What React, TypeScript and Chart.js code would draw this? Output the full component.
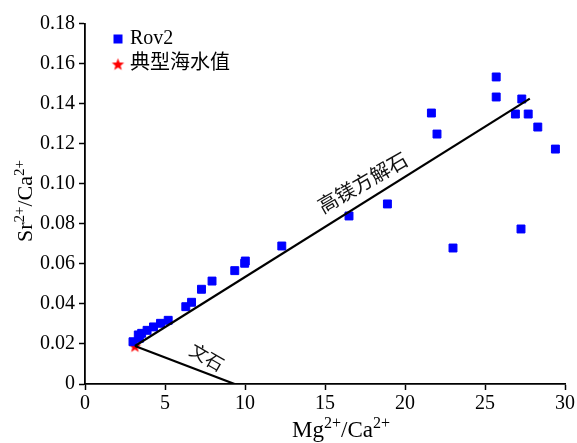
import React, { useEffect, useRef } from 'react';
import { Chart, registerables } from 'chart.js';

Chart.register(...registerables);

// ---- data ----
const rovMg = [25.7, 25.7, 27.3, 26.9, 27.7, 28.3, 29.4, 21.65, 22.0, 27.25, 23.0, 18.9, 16.5, 12.3, 10.02, 9.98, 9.36, 7.94, 7.28, 6.66, 6.3, 5.2, 4.72, 4.28, 3.88, 3.54, 3.33, 3.0, 3.4];
const rovSr = [0.1533, 0.1433, 0.1423, 0.1348, 0.1348, 0.1283, 0.1173, 0.1353, 0.1248, 0.0774, 0.0679, 0.0899, 0.0839, 0.0689, 0.0614, 0.0603, 0.0566, 0.0514, 0.0473, 0.0408, 0.0386, 0.0318, 0.0303, 0.0285, 0.0268, 0.0253, 0.0245, 0.0211, 0.0228];
const seawaterMg = [3.12];
const seawaterSr = [0.019];
const calciteLineMg = [3.12, 27.8];
const calciteLineSr = [0.019, 0.1425];
const aragoniteLineMg = [3.12, 9.35];
const aragoniteLineSr = [0.019, 0];
const seriesLabels = ['Rov2', '典型海水值'];
const lineLabels = ['高镁方解石', '文石'];
const lineLabelMg = [17.34, 7.62];
const lineLabelSr = [0.1006, 0.0135];
const xAxisRange = [0, 30, 5];
const yAxisRange = [0, 0.18, 0.02];

// ---- styles ----
const SERIF = 'Liberation Serif, Noto Sans CJK SC, serif';
const CJK = 'Noto Sans CJK SC, Noto Sans CJK JP, sans-serif';
const BLUE = '#0000ff';
const RED = '#ff0000';

Chart.defaults.font.family = SERIF;

function makeStar(color: string, outer: number, inner: number): HTMLCanvasElement {
  const c = document.createElement('canvas');
  const s = Math.ceil(outer * 2 + 2);
  c.width = s;
  c.height = s;
  const ctx = c.getContext('2d')!;
  ctx.translate(s / 2, s / 2 + 0.8);
  ctx.beginPath();
  for (let i = 0; i < 10; i++) {
    const r = i % 2 === 0 ? outer : inner;
    const a = -Math.PI / 2 + (i * Math.PI) / 5;
    const x = r * Math.cos(a);
    const y = r * Math.sin(a);
    if (i === 0) ctx.moveTo(x, y);
    else ctx.lineTo(x, y);
  }
  ctx.closePath();
  ctx.fillStyle = color;
  ctx.fill();
  return c;
}

type Piece = { t: string; sup?: boolean };

function drawRich(ctx: CanvasRenderingContext2D, pieces: Piece[], size: number) {
  const supSize = Math.round(size * 0.68);
  let total = 0;
  const widths: number[] = [];
  for (const p of pieces) {
    ctx.font = `${p.sup ? supSize : size}px ${SERIF}`;
    const w = ctx.measureText(p.t).width;
    widths.push(w);
    total += w;
  }
  let x = -total / 2;
  pieces.forEach((p, i) => {
    ctx.font = `${p.sup ? supSize : size}px ${SERIF}`;
    ctx.fillText(p.t, x, p.sup ? -size * 0.38 : 0);
    x += widths[i];
  });
}

export default function App() {
  const ref = useRef<HTMLCanvasElement | null>(null);

  useEffect(() => {
    if (!ref.current) return;
    const star = makeStar(RED, 6.5, 2.7);

    const decor = {
      id: 'decor',
      afterDatasetsDraw(chart: any) {
        const ctx: CanvasRenderingContext2D = chart.ctx;
        const xs = chart.scales.x;
        const ys = chart.scales.y;
        ctx.save();
        ctx.fillStyle = '#000';
        ctx.textAlign = 'left';
        ctx.textBaseline = 'alphabetic';
        // line labels
        const angles = [-30, 30];
        const sizes = [20, 18];
        lineLabels.forEach((lab, i) => {
          ctx.save();
          ctx.translate(xs.getPixelForValue(lineLabelMg[i]), ys.getPixelForValue(lineLabelSr[i]));
          ctx.rotate((angles[i] * Math.PI) / 180);
          ctx.font = `${sizes[i]}px ${CJK}`;
          ctx.textAlign = 'center';
          ctx.textBaseline = 'middle';
          ctx.fillStyle = '#111';
          ctx.fillText(lab, 0, 0);
          ctx.restore();
        });
        // legend
        ctx.fillStyle = BLUE;
        ctx.fillRect(113.5, 34.5, 9, 9);
        ctx.drawImage(star, 118 - star.width / 2, 64 - star.height / 2);
        ctx.fillStyle = '#000';
        ctx.textBaseline = 'middle';
        ctx.font = `20px ${SERIF}`;
        ctx.fillText(seriesLabels[0], 130, 39);
        ctx.font = `20px ${SERIF}`;
        ctx.fillText(seriesLabels[1], 130, 64);
        // axis titles
        ctx.textBaseline = 'alphabetic';
        ctx.textAlign = 'left';
        ctx.save();
        ctx.translate(341, 437);
        drawRich(ctx, [{ t: 'Mg' }, { t: '2+', sup: true }, { t: '/Ca' }, { t: '2+', sup: true }], 23);
        ctx.restore();
        ctx.save();
        ctx.translate(32, 201);
        ctx.rotate(-Math.PI / 2);
        drawRich(ctx, [{ t: 'Sr' }, { t: '2+', sup: true }, { t: '/Ca' }, { t: '2+', sup: true }], 22);
        ctx.restore();
        ctx.restore();
      },
    };

    const toPts = (xs: number[], ys: number[]) => xs.map((x, i) => ({ x, y: ys[i] }));

    const chart = new Chart(ref.current, {
      type: 'scatter',
      data: {
        datasets: [
          {
            type: 'line',
            label: lineLabels[0],
            data: toPts(calciteLineMg, calciteLineSr),
            borderColor: '#000',
            borderWidth: 2.2,
            pointRadius: 0,
            showLine: true,
            fill: false,
          } as any,
          {
            type: 'line',
            label: lineLabels[1],
            data: toPts(aragoniteLineMg, aragoniteLineSr),
            borderColor: '#000',
            borderWidth: 2.2,
            pointRadius: 0,
            showLine: true,
            fill: false,
          } as any,
          {
            label: seriesLabels[0],
            data: toPts(rovMg, rovSr),
            pointStyle: 'rect',
            pointRadius: 5.6,
            backgroundColor: BLUE,
            borderColor: BLUE,
            borderWidth: 1,
          },
          {
            label: seriesLabels[1],
            data: toPts(seawaterMg, seawaterSr),
            pointStyle: star as any,
            pointRadius: 6,
            backgroundColor: RED,
            borderColor: RED,
          },
        ],
      },
      options: {
        responsive: false,
        animation: false,
        devicePixelRatio: 1,
        layout: { padding: { left: 0, top: 23.5, right: 11, bottom: 0 } },
        plugins: {
          legend: { display: false },
          tooltip: { enabled: false },
        },
        scales: {
          x: {
            type: 'linear',
            min: xAxisRange[0],
            max: xAxisRange[1],
            ticks: {
              stepSize: xAxisRange[2],
              color: '#000',
              font: { family: SERIF, size: 20 },
              padding: 2,
              maxRotation: 0,
            },
            grid: {
              display: true,
              drawOnChartArea: false,
              drawTicks: true,
              tickLength: 6,
              tickColor: '#000',
              tickWidth: 1.5,
            },
            border: { display: true, color: '#000', width: 1.8 },
            afterFit: (s: any) => {
              s.height = 59;
            },
          },
          y: {
            type: 'linear',
            min: yAxisRange[0],
            max: yAxisRange[1],
            ticks: {
              stepSize: yAxisRange[2],
              color: '#000',
              font: { family: SERIF, size: 20 },
              padding: 4,
              callback: (v: any) => (Number(v) === 0 ? '0' : Number(v).toFixed(2)),
            },
            grid: {
              display: true,
              drawOnChartArea: false,
              drawTicks: true,
              tickLength: 6,
              tickColor: '#000',
              tickWidth: 1.5,
            },
            border: { display: true, color: '#000', width: 1.8 },
            afterFit: (s: any) => {
              s.width = 85;
            },
          },
        },
      },
      plugins: [decor],
    });
    return () => chart.destroy();
  }, []);

  return (
    <div style={{ position: 'absolute', left: 0, top: 0, width: 577, height: 443, background: '#fff' }}>
      <canvas ref={ref} width={577} height={443} style={{ display: 'block', width: 577, height: 443 }} />
    </div>
  );
}
